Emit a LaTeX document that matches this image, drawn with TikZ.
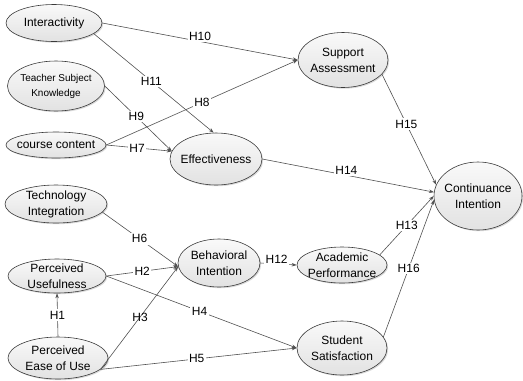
\documentclass[tikz,border=0pt]{standalone}
\usepackage{fontspec}
\setmainfont{Liberation Sans}
\usepackage{tikz}
\usepackage{xcolor}
\usetikzlibrary{arrows.meta,shapes.geometric,shadows}
\definecolor{ink}{HTML}{3A3A3A}
\definecolor{wire}{HTML}{505050}
\definecolor{shell}{HTML}{E2E2E2}
\definecolor{shelltop}{HTML}{F9F9F9}
\tikzset{
  construct/.style={ellipse,draw=ink,line width=0.6pt,
                    top color=shelltop,bottom color=shell,
                    drop shadow={shadow xshift=1.2pt,shadow yshift=-1.2pt,opacity=0.3},
                    inner sep=-4bp,align=center,font=\fontsize{12}{16}\selectfont},
  smallconstruct/.style={construct,font=\fontsize{10}{15}\selectfont},
  hyparr/.style={-{Stealth[length=5bp,width=3.5bp]},color=wire,line width=0.6pt},
  hlabel/.style={fill=white,inner sep=1.5bp,text=black,
                 font=\fontsize{12}{14}\selectfont}
}

\begin{document}
\begin{tikzpicture}[x=1bp,y=-1bp]
  \useasboundingbox (0,0) rectangle (523,380);

  \node[construct,minimum width=96bp,minimum height=37bp] (inter) at (54,23) {Interactivity};
  \node[smallconstruct,minimum width=97bp,minimum height=50bp] (tsk) at (56,86) {Teacher Subject\\Knowledge};
  \node[construct,minimum width=100bp,minimum height=26bp] (cc) at (56,145) {course content};
  \node[construct,minimum width=102bp,minimum height=38bp] (ti) at (56,204) {Technology\\Integration};
  \node[construct,minimum width=98bp,minimum height=34bp] (pu) at (57,276) {Perceived\\Usefulness};
  \node[construct,minimum width=100bp,minimum height=42bp] (peu) at (58,358) {Perceived\\Ease of Use};
  \node[construct,minimum width=92bp,minimum height=52bp] (eff) at (216,159) {Effectiveness};
  \node[construct,minimum width=82bp,minimum height=48bp] (bi) at (219,263) {Behavioral\\Intention};
  \node[construct,minimum width=90bp,minimum height=55bp] (sa) at (343,60) {Support\\Assessment};
  \node[construct,minimum width=90bp,minimum height=36bp] (ap) at (342,265) {Academic\\Performance};
  \node[construct,minimum width=90bp,minimum height=54bp] (ss) at (342,348) {Student\\Satisfaction};
  \node[construct,minimum width=88bp,minimum height=68bp] (ci) at (478,196) {Continuance\\Intention};

  \draw[hyparr] (inter.east) -- node[hlabel,pos=0.5,yshift=5bp] {H10} (sa.west);
  \draw[hyparr] (inter.-15) -- node[hlabel,pos=0.48] {H11} (eff.95);
  \draw[hyparr] (tsk.east) -- node[hlabel,pos=0.47] {H9} (eff.170);
  \draw[hyparr] (cc.east) -- node[hlabel,pos=0.5] {H8} (sa.west);
  \draw[hyparr] (cc.east) -- node[hlabel,pos=0.47] {H7} (eff.170);
  \draw[hyparr] (eff.east) -- node[hlabel,pos=0.49,yshift=5bp] {H14} (ci.175);
  \draw[hyparr] (sa.-20) -- node[hlabel,pos=0.45] {H15} (ci.165);
  \draw[hyparr] (ti.-10) -- node[hlabel,pos=0.49] {H6} (bi.185);
  \draw[hyparr] (pu.east) -- node[hlabel,pos=0.5] {H2} (bi.185);
  \draw[hyparr] (pu.east) -- node[hlabel,pos=0.49] {H4} (ss.west);
  \draw[hyparr] (peu.-15) -- node[hlabel,fill=none,pos=0.51] {H3} (bi.185);
  \draw[hyparr] (peu.-15) -- node[hlabel,pos=0.49] {H5} (ss.west);
  \draw[hyparr] (peu.north) -- node[hlabel,pos=0.5] {H1} (pu.south);
  \draw[hyparr] (bi.east) -- node[hlabel,pos=0.45,yshift=5bp] {H12} (ap.west);
  \draw[hyparr] (ap.15) -- node[hlabel,pos=0.5] {H13} (ci.180);
  \draw[hyparr] (ss.15) -- node[hlabel,pos=0.5] {H16} (ci.185);
\end{tikzpicture}
\end{document}
